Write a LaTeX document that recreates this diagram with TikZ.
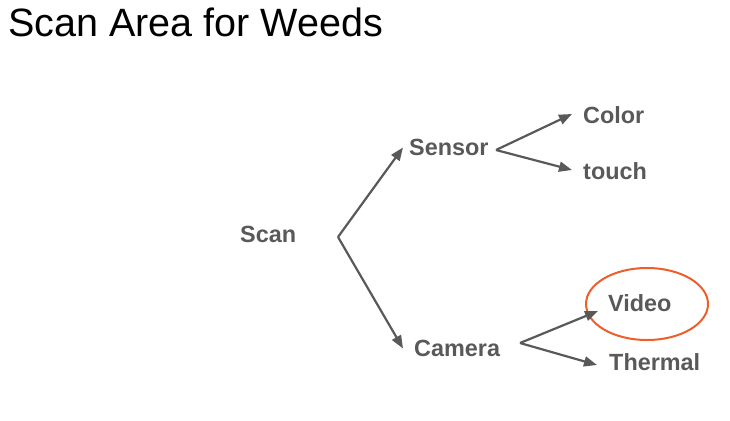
\documentclass[tikz,border=0pt]{standalone}
\usepackage{fontspec}
\setmainfont{Liberation Sans}
\usetikzlibrary{arrows.meta,shapes.geometric}
\definecolor{txtgray}{HTML}{595959}
\definecolor{hilite}{HTML}{EE5E2B}
\begin{document}
\begin{tikzpicture}[x=1pt,y=-1pt,
 lbl/.style={anchor=west,inner sep=0pt,text height=16.8pt,text depth=0pt,font=\fontsize{23.4}{26}\selectfont\bfseries,text=txtgray},
 arr/.style={draw=txtgray,line width=2.2pt,-{Triangle[length=13pt,width=10pt]}},
 ring/.style={ellipse,draw=hilite,line width=2pt,minimum width=122pt,minimum height=72pt,inner sep=0pt}
]
\useasboundingbox (0,0) rectangle (730,420);
\node[anchor=base west,inner sep=0pt,font=\fontsize{39.5}{44}\selectfont] (title) at (8,37) {Scan Area for Weeds};
\node[lbl] (scan) at (240,234.5) {Scan};
\node[lbl] (sensor) at (409,147.5) {Sensor};
\node[lbl] (color) at (583,115) {Color};
\node[lbl] (touch) at (583,171) {touch};
\node[lbl] (camera) at (414,348.5) {Camera};
\node[lbl] (video) at (608,303.5) {Video};
\node[lbl] (thermal) at (609,362) {Thermal};
\node[ring] (circ) at (647,304) {};
\coordinate (f1) at (338,237);
\coordinate (f2) at (496,150);
\coordinate (f3) at (520,343);
\draw[arr] (f1) -- ([xshift=-6pt]sensor.west);
\draw[arr] (f1) -- ([xshift=-11pt]camera.west);
\draw[arr] (f2) -- ([xshift=-11pt,yshift=1pt]color.west);
\draw[arr] (f2) -- ([xshift=-11pt,yshift=1pt]touch.west);
\draw[arr] (f3) -- ([xshift=-10pt,yshift=-7.5pt]video.west);
\draw[arr] (f3) -- ([xshift=-12pt,yshift=-3pt]thermal.west);
\end{tikzpicture}
\end{document}
